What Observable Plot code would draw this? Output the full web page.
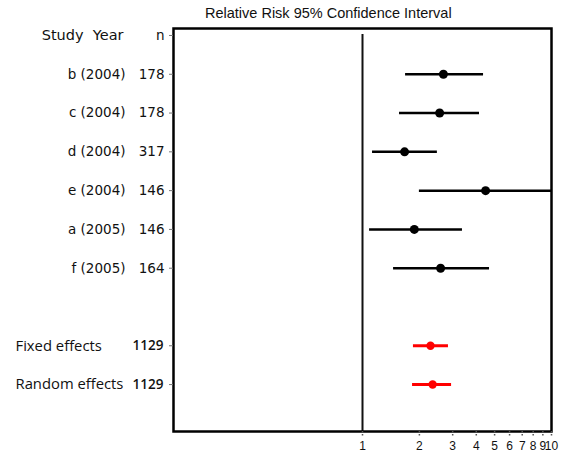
<!DOCTYPE html>
<html>
<head>
<meta charset="utf-8">
<script src="https://cdn.jsdelivr.net/npm/d3@7"></script>
<script src="https://cdn.jsdelivr.net/npm/@observablehq/plot@0.6"></script>
<style>
  html, body { margin: 0; padding: 0; background: #fff; }
  #wrap { width: 562px; height: 458px; position: relative; }
  #title { height: 22px; line-height: 26px; font-family: "Liberation Sans", Arial, sans-serif; font-size: 14.5px; color: #111; padding-left: 205px; white-space: nowrap; }
</style>
</head>
<body>
<div id="wrap">
  <div id="title">Relative Risk 95% Confidence Interval</div>
  <div id="chart"></div>
</div>
<script>
// ---- data ----
const headers = ["Study\u00a0\u00a0Year", "n"];
const studies = ["b (2004)", "c (2004)", "d (2004)", "e (2004)", "a (2005)", "f (2005)"];
const studyN = [178, 178, 317, 146, 146, 164];
const studyRR = [2.68, 2.56, 1.67, 4.48, 1.88, 2.59];
const studyLo = [1.69, 1.57, 1.13, 2.00, 1.09, 1.46];
const studyHi = [4.37, 4.16, 2.49, 10, 3.38, 4.70];
const pooled = ["Fixed effects", "Random effects"];
const pooledN = [1129, 1129];
const pooledRR = [2.29, 2.35];
const pooledLo = [1.86, 1.84];
const pooledHi = [2.85, 2.96];
const xTicks = [1, 2, 3, 4, 5, 6, 7, 8, 9, 10];

// ---- tables ----
const studyData = studies.map((s, i) => ({label: s, n: studyN[i], rr: studyRR[i], lo: studyLo[i], hi: studyHi[i], row: i + 1}));
const pooledData = pooled.map((s, j) => ({label: s, n: pooledN[j], rr: pooledRR[j], lo: pooledLo[j], hi: pooledHi[j], row: studies.length + 2 + j}));
const allRows = [0, ...studyData.map(d => d.row), ...pooledData.map(d => d.row)];
const lastRow = pooledData[pooledData.length - 1].row;

const sansA = "DejaVu Sans, Verdana, sans-serif";
const sansB = "Open Sans, Calibri, sans-serif";

const chart = Plot.plot({
  width: 562,
  height: 436,
  marginLeft: 173,
  marginRight: 11,
  marginTop: 6,
  marginBottom: 27,
  style: {fontFamily: sansA, color: "#111", background: "#fff"},
  x: {type: "log", domain: [0.1, 10], label: null},
  y: {domain: [-0.18, lastRow + 1.21], reverse: true, label: null},
  marks: [
    Plot.ruleX([1], {stroke: "#111", strokeWidth: 2, insetTop: 6}),
    Plot.ruleY(studyData, {y: "row", x1: "lo", x2: "hi", stroke: "#000", strokeWidth: 2.5}),
    Plot.dot(studyData, {x: "rr", y: "row", r: 4.5, fill: "#000", stroke: "none"}),
    Plot.ruleY(pooledData, {y: "row", x1: "lo", x2: "hi", stroke: "#ff0000", strokeWidth: 3}),
    Plot.dot(pooledData, {x: "rr", y: "row", r: 4.2, fill: "#ff0000", stroke: "none"}),
    Plot.frame({stroke: "#000", strokeWidth: 2.5}),
    Plot.axisY({ticks: allRows, tickSize: 4, tickFormat: () => "", label: null, stroke: "#777", strokeWidth: 1}),
    Plot.axisX({ticks: xTicks, tickFormat: () => "", label: null, tickSize: 5, stroke: "#555", strokeDasharray: "1.5,1.5", strokeWidth: 1.5}),
    // x tick labels
    Plot.text(xTicks, {x: d => d, text: d => String(d), frameAnchor: "bottom", dy: 18, fontSize: 12, letterSpacing: "-0.6px", fontFamily: "Liberation Sans, Arial, sans-serif"}),
    // header row
    Plot.text([headers[0]], {y: () => 0, frameAnchor: "left", dx: -50, textAnchor: "end", fontSize: 14.5, fontFamily: sansA}),
    Plot.text([headers[1]], {y: () => 0, frameAnchor: "left", dx: -9, textAnchor: "end", fontSize: 13.5, fontFamily: sansA}),
    // study labels and n
    Plot.text(studyData, {y: "row", text: "label", frameAnchor: "left", dx: -48, textAnchor: "end", fontSize: 13.5, fontFamily: sansA}),
    Plot.text(studyData, {y: "row", text: d => String(d.n), frameAnchor: "left", dx: -9, textAnchor: "end", fontSize: 13.5, fontFamily: sansA}),
    // pooled labels and n
    Plot.text(pooledData, {y: "row", text: "label", frameAnchor: "left", dx: -158, textAnchor: "start", fontSize: 14.8, fontFamily: sansB}),
    Plot.text(pooledData, {y: "row", text: d => String(d.n), frameAnchor: "left", dx: -10, textAnchor: "end", fontSize: 13.5, fontFamily: sansB, fontWeight: 600})
  ]
});
document.getElementById("chart").appendChild(chart);
</script>
</body>
</html>
